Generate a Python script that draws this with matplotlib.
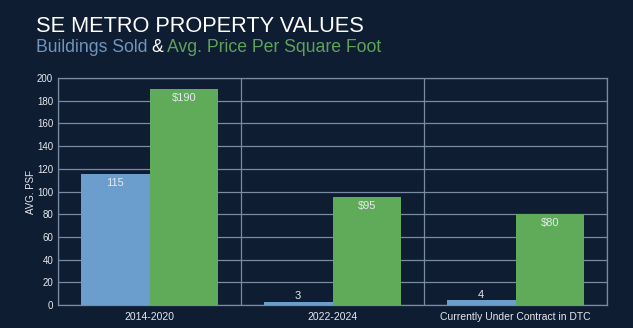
import matplotlib
matplotlib.use("Agg")
import matplotlib.pyplot as plt
import numpy as np

categories = ["2014-2020", "2022-2024", "Currently Under Contract in DTC"]
buildings_sold = [115, 3, 4]
avg_psf = [190, 95, 80]
sold_labels = ["115", "3", "4"]
psf_labels = ["$190", "$95", "$80"]
yticks = [0, 20, 40, 60, 80, 100, 120, 140, 160, 180, 200]

BG = "#0f1d33"
BLUE = "#6b9dcd"
GREEN = "#5fab5a"
GRID = "#7b8aa3"
TXT = "#e6e9ee"

plt.rcParams['font.family'] = ['Liberation Sans', 'DejaVu Sans']

W, H = 633, 328
fig = plt.figure(figsize=(W / 100, H / 100), dpi=100, facecolor=BG)
ax = fig.add_axes([58 / W, 1 - 305 / H, (607 - 58) / W, (305 - 78) / H])
ax.set_facecolor(BG)

x = np.arange(len(categories))
bw = 0.377
b1 = ax.bar(x - bw / 2, buildings_sold, bw, color=BLUE, zorder=3)
b2 = ax.bar(x + bw / 2, avg_psf, bw, color=GREEN, zorder=3)

for rect, lab, v in zip(b1, sold_labels, buildings_sold):
    cx = rect.get_x() + rect.get_width() / 2
    if v > 20:
        ax.text(cx, v - 3, lab, ha="center", va="top", color=TXT, fontsize=8, zorder=4)
    else:
        ax.text(cx, v + 0.5, lab, ha="center", va="bottom", color=TXT, fontsize=8, zorder=4)
for rect, lab, v in zip(b2, psf_labels, avg_psf):
    cx = rect.get_x() + rect.get_width() / 2
    ax.text(cx, v - 3, lab, ha="center", va="top", color=TXT, fontsize=8, zorder=4)

ax.set_xlim(-0.5, len(categories) - 0.5)
ax.set_ylim(0, 200)
ax.set_yticks(yticks)
ax.set_xticks(x)
ax.set_xticklabels(categories)
ax.set_xticks(np.arange(-0.5, len(categories), 0.5), minor=True)
ax.grid(axis="y", color=GRID, linewidth=0.9, zorder=1)
ax.grid(axis="x", which="minor", color=GRID, linewidth=0.9, zorder=1)
ax.tick_params(axis="both", which="both", length=0, colors=TXT, labelsize=7)
ax.tick_params(axis="x", pad=5, labelsize=7.5)
for s in ax.spines.values():
    s.set_color(GRID)
    s.set_linewidth(0.9)
ax.set_ylabel("AVG. PSF", color=TXT, fontsize=7, labelpad=1)

fig.text(36 / W, 1 - 32.5 / H, "SE METRO PROPERTY VALUES", color="white", fontsize=15.7, ha="left", va="baseline")
# subtitle with colored parts
sub_y = 1 - 52.5 / H
t1 = fig.text(36 / W, sub_y, "Buildings Sold", color="#7096bc", fontsize=12.7, ha="left", va="baseline")
fig.canvas.draw()
r = fig.canvas.get_renderer()
bb = t1.get_window_extent(r)
t2 = fig.text(bb.x1 / W + 4 / W, sub_y, "&", color="white", fontsize=12.7, ha="left", va="baseline")
bb2 = t2.get_window_extent(r)
fig.text(bb2.x1 / W + 4 / W, sub_y, "Avg. Price Per Square Foot", color="#5ea25a", fontsize=12.7, ha="left", va="baseline")

fig.savefig("out.png", dpi=100, facecolor=BG)
